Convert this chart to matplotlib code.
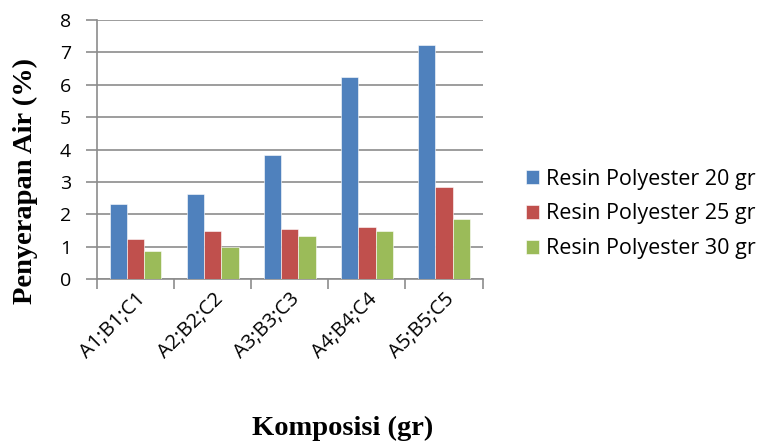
import numpy as np
import matplotlib
matplotlib.use("Agg")
import matplotlib.pyplot as plt

# komposisi dan nilai penyerapan air (%)
categories = ["A1;B1;C1", "A2;B2;C2", "A3;B3;C3", "A4;B4;C4", "A5;B5;C5"]
resin_20 = [2.32, 2.64, 3.83, 6.23, 7.22]
resin_25 = [1.25, 1.50, 1.56, 1.60, 2.84]
resin_30 = [0.86, 1.01, 1.34, 1.50, 1.85]
series_labels = ["Resin Polyester 20 gr", "Resin Polyester 25 gr", "Resin Polyester 30 gr"]
colors = ["#4F81BD", "#C0504D", "#9BBB59"]
yticks = [0, 1, 2, 3, 4, 5, 6, 7, 8]

grid_col = "#8C8C8C"

fig = plt.figure(figsize=(7.77, 4.43), dpi=100)
ax = fig.add_axes([0.1252, 0.3695, 0.4958, 0.5854])

x = np.arange(len(categories))
w = 1 / 4.5
for i, (vals, lab, c) in enumerate(zip([resin_20, resin_25, resin_30], series_labels, colors)):
    ax.bar(x + (i - 1) * w, vals, width=w, color=c, label=lab,
           edgecolor="white", linewidth=0.4, zorder=3)

ax.set_xlim(-0.5, len(categories) - 0.5)
ax.set_ylim(0, 8)
ax.set_yticks(yticks)
ax.yaxis.grid(True, color=grid_col, linewidth=1.2, zorder=0)
ax.set_axisbelow(True)

for s in ["top", "right"]:
    ax.spines[s].set_visible(False)
for s in ["left", "bottom"]:
    ax.spines[s].set_color(grid_col)
    ax.spines[s].set_linewidth(1.2)

ax.tick_params(axis="y", length=8, width=1.2, color=grid_col, labelsize=14,
               pad=11)
for t in ax.get_yticklabels():
    t.set_fontfamily("Open Sans")

# label di tengah kategori, garis tick di batas kategori
ax.set_xticks(x)
ax.set_xticklabels(categories, rotation=45, ha="right", rotation_mode="anchor",
                   fontsize=14.5, fontfamily="Open Sans")
ax.tick_params(axis="x", which="major", length=0, pad=7)
ax.set_xticks(np.arange(-0.5, len(categories), 1), minor=True)
ax.tick_params(axis="x", which="minor", length=7, width=1.2, color=grid_col)

fig.text(25 / 777, 1 - 181 / 443, "Penyerapan Air (%)", fontsize=20.5,
         fontweight="bold", fontfamily="Liberation Serif", rotation=90,
         ha="center", va="center")
fig.text(343 / 777, 1 - 428 / 443, "Komposisi (gr)", fontsize=20.5,
         fontweight="bold", fontfamily="Liberation Serif",
         ha="center", va="center")

fig.legend(loc="center left", bbox_to_anchor=(526 / 777, 1 - 214 / 443),
           frameon=False, prop={"family": "Open Sans", "size": 15.5},
           handlelength=0.6, handleheight=0.6, handletextpad=0.32,
           labelspacing=0.65, borderaxespad=0, borderpad=0)

fig.savefig("out.png", dpi=100)
